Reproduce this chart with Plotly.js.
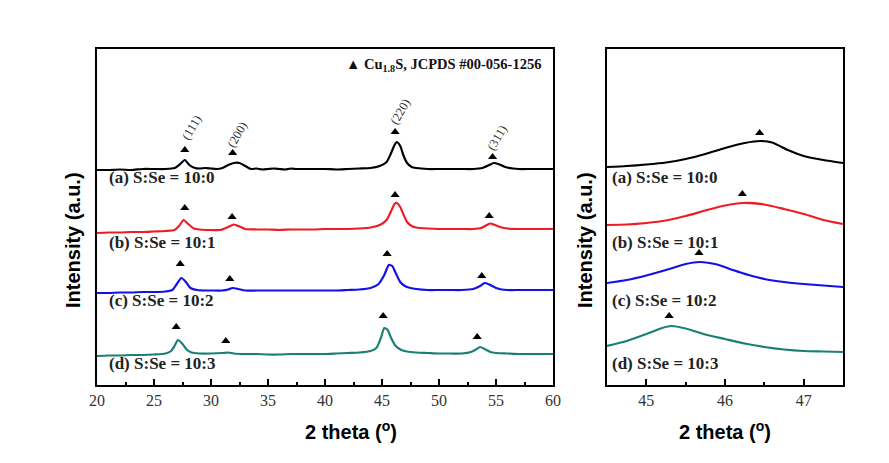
<!DOCTYPE html>
<html><head><meta charset="utf-8">
<script src="https://cdn.plot.ly/plotly-3.0.1.min.js"></script>
<style>body{margin:0;background:#fff}#c{width:889px;height:463px}</style>
</head><body><div id="c"></div>
<script>
// Left panel (20-60 deg), stacked intensities (a.u.)
const aX = [20,21,22,23,24,25,26,26.8,27.3,27.7,28.1,28.6,29,29.5,30,30.5,31,31.5,32,32.5,33,33.5,34,34.5,35,35.5,36,36.5,37,37.5,38,39,40,41,42,43,44,44.8,45.4,45.8,46.1,46.3,46.6,46.9,47.2,47.6,48,49,50,51,52,53,53.8,54.4,54.8,55.2,55.8,56.5,57,58,59,60];
const aY = [215,215,215.5,215,216,216,216,217,221,225,220,217,216.5,217,216.5,216,217,220,222,222,219,216,216.5,215.5,216,216.5,216,215.5,216.5,216,216,216,216,215.5,216,216.5,217,219,223,232,240,243,239,229,222,218,217,216,216,216,216,216,217,220,222,221,218,216.5,216,216,216,216];
const bX = [20,21,22,23,24,25,26,26.8,27.2,27.6,28.0,28.5,29,30,30.8,31.5,32,32.5,33,34,35,36,37,38,39,40,41,42,43,44,44.8,45.4,45.8,46.1,46.3,46.6,46.9,47.2,47.6,48,49,50,51,52,53,53.7,54.2,54.5,54.9,55.5,56,57,58,59,60];
const bY = [152,152.5,152.5,153,153,153.5,154,155,159,165,161,156.5,155.5,155,155,158,160.5,158.5,156,155.5,155.5,155,155.5,155.5,155.5,156,156,156,156.5,157.5,160,165,174,181,182,178,170,163,159,157.5,156.5,156,156,156,156,157,160,161.5,160,157.5,156.5,156,156,156,156];
const cX = [20,21,22,23,24,25,26,26.6,27.0,27.4,27.8,28.2,28.8,29.5,30,31,31.5,31.9,32.4,33,34,35,36,37,38,39,40,41,42,43,44,44.7,45.2,45.6,45.9,46.2,46.6,47,47.5,48,49,50,51,52,53,53.6,54.0,54.4,55,55.5,56,57,58,59,60];
const cY = [92,92,92.5,92.5,93,93,93.5,95,101,107,103,97,95,94.5,94.5,94.5,95.5,97,96,94.5,94.5,94.5,94.5,94.5,94.5,94.5,94.5,94.5,95,95.5,97,101,110,120,119,112,103,99,97,96,95,95,95,95,96,99,102,100.5,97,95.5,95,95,95,95,95];
const dX = [20,21,22,23,24,25,26,26.5,26.8,27.1,27.5,27.9,28.3,29,30,31,31.5,32,33,34,35,36,37,38,39,40,41,42,43,44,44.5,44.9,45.2,45.5,45.8,46.2,46.7,47.2,48,49,50,51,52,52.8,53.3,53.6,54.0,54.5,55,56,57,58,59,60];
const dY = [29,29.5,29.5,30,30,30.5,31.5,34,39,45,41,35,32.5,31.5,31.5,32,32.5,31.5,31,31,30.5,30.5,31,31,31,31,31.5,32,32.5,34,37,47,57,55,47,39,35,33.5,32.5,32,31.5,31.5,31.5,33,36,38,36,33,32,31.5,31,31,31,31];
// Peak markers (left)
const triAX = [27.7,31.9,46.15,54.7], triAY = [235,232,253,228];
const triBX = [27.7,31.85,46.15,54.4], triBY = [177,168,190,169];
const triCX = [27.3,31.65,45.45,53.75], triCY = [121,106,131,109];
const triDX = [26.95,31.3,45.1,53.35], triDY = [58,44,69,48];
const hklLabels = ['(111)','(200)','(220)','(311)'];
const hklX = [28.3,32.3,46.6,55.1], hklY = [257,250,273,247];
// Right panel (44.5-47.5 deg)
const raX = [44.5,44.75,45,45.25,45.5,45.75,46,46.25,46.45,46.6,46.8,47,47.25,47.5];
const raY = [218,219,220.5,222.5,226,231,237,242,244,242.5,235,229,225,222];
const rbX = [44.5,44.75,45,45.25,45.5,45.75,46,46.23,46.5,46.75,47,47.25,47.5];
const rbY = [160,160.5,162,164.5,169,174.5,179.5,182,180.5,176,171,165,161];
const rcX = [44.5,44.75,45,45.25,45.5,45.68,45.9,46.1,46.3,46.5,46.75,47,47.25,47.5];
const rcY = [102,105,109.5,115,121,123,120.5,115,110,106,103,101,99.5,98];
const rdX = [44.5,44.75,45,45.2,45.32,45.5,45.75,46,46.25,46.5,46.75,47,47.25,47.5];
const rdY = [39,44,51,57,59,56.5,50.5,46,41.5,38,35.5,34,33.5,33];
const rTriX = [46.44,46.22,45.67,45.29], rTriY = [252,191,132,69];
const sampleLabels = ['(a) S:Se = 10:0','(b) S:Se = 10:1','(c) S:Se = 10:2','(d) S:Se = 10:3'];
const sampleLabelY = [207,142,85,22];
const colors = ['#000000','#ee1c24','#1212e6','#1a7f75'];

const line = (x,y,c,xa) => ({x:x,y:y,mode:'lines',line:{color:c,width:2.2,shape:'spline',smoothing:0.6},xaxis:xa,yaxis:xa==='x'?'y':'y2',showlegend:false,hoverinfo:'skip'});
const tri = (x,y,xa) => ({x:x,y:y,mode:'markers',marker:{symbol:'triangle-up',size:8,color:'#000'},xaxis:xa,yaxis:xa==='x'?'y':'y2',showlegend:false,hoverinfo:'skip'});
const data = [
  line(aX,aY,colors[0],'x'),line(bX,bY,colors[1],'x'),line(cX,cY,colors[2],'x'),line(dX,dY,colors[3],'x'),
  tri(triAX,triAY,'x'),tri(triBX,triBY,'x'),tri(triCX,triCY,'x'),tri(triDX,triDY,'x'),
  line(raX,raY,colors[0],'x2'),line(rbX,rbY,colors[1],'x2'),line(rcX,rcY,colors[2],'x2'),line(rdX,rdY,colors[3],'x2'),
  tri(rTriX,rTriY,'x2')
];
const serif = 'Liberation Serif, Times New Roman, serif';
const sans = 'Liberation Sans, Arial, sans-serif';
const ann = [];
sampleLabels.forEach((t,i)=>{
  ann.push({xref:'x',yref:'y',x:20.9,y:sampleLabelY[i],text:'<b>'+t+'</b>',showarrow:false,xanchor:'left',yanchor:'middle',font:{family:serif,size:17,color:'#222'}});
  ann.push({xref:'x2',yref:'y2',x:44.54,y:sampleLabelY[i],text:'<b>'+t+'</b>',showarrow:false,xanchor:'left',yanchor:'middle',font:{family:serif,size:17,color:'#222'}});
});
hklLabels.forEach((t,i)=>{
  ann.push({xref:'x',yref:'y',x:hklX[i],y:hklY[i],text:t,textangle:-60,showarrow:false,xanchor:'center',yanchor:'middle',font:{family:serif,size:12.5,color:'#333'}});
});
ann.push({xref:'x',yref:'y',x:59.1,y:320,text:'<b>▲ Cu<sub>1.8</sub>S, JCPDS #00-056-1256</b>',showarrow:false,xanchor:'right',yanchor:'middle',font:{family:serif,size:14.5,color:'#111'}});
ann.push({xref:'paper',yref:'paper',x:73/889,y:1-240/463,text:'<b>Intensity (a.u.)</b>',textangle:-90,showarrow:false,xanchor:'center',yanchor:'middle',font:{family:sans,size:20,color:'#000'}});
ann.push({xref:'paper',yref:'paper',x:585/889,y:1-240/463,text:'<b>Intensity (a.u.)</b>',textangle:-90,showarrow:false,xanchor:'center',yanchor:'middle',font:{family:sans,size:20,color:'#000'}});
ann.push({xref:'paper',yref:'paper',x:351/889,y:1-430/463,text:'<b>2 theta (<sup>o</sup>)</b>',showarrow:false,xanchor:'center',yanchor:'middle',font:{family:sans,size:20,color:'#000'}});
ann.push({xref:'paper',yref:'paper',x:725/889,y:1-430/463,text:'<b>2 theta (<sup>o</sup>)</b>',showarrow:false,xanchor:'center',yanchor:'middle',font:{family:sans,size:20,color:'#000'}});

const xbase = {showline:true,linecolor:'#000',linewidth:2,mirror:true,ticks:'inside',ticklen:6,tickwidth:2,tickcolor:'#000',
  showgrid:false,zeroline:false,tickfont:{family:serif,size:16,color:'#333'},fixedrange:true};
const ybase = {showline:true,linecolor:'#000',linewidth:2,mirror:true,ticks:'',showticklabels:false,showgrid:false,zeroline:false,range:[0,336],domain:[1-385/463,1-49/463]};
const layout = {
  width:889,height:463,margin:{l:0,r:0,t:0,b:0},paper_bgcolor:'#fff',plot_bgcolor:'#fff',showlegend:false,
  xaxis:Object.assign({},xbase,{domain:[97/889,553/889],range:[20,60],dtick:5,tick0:20,minor:{dtick:2.5,ticks:'inside',ticklen:3,tickwidth:2,tickcolor:'#000'},anchor:'y'}),
  yaxis:Object.assign({},ybase,{anchor:'x'}),
  xaxis2:Object.assign({},xbase,{domain:[607/889,843/889],range:[44.5,47.5],dtick:1,tick0:45,minor:{dtick:0.5,ticks:'inside',ticklen:3,tickwidth:2,tickcolor:'#000'},anchor:'y2'}),
  yaxis2:Object.assign({},ybase,{anchor:'x2'}),
  annotations:ann
};
Plotly.newPlot('c',data,layout,{staticPlot:true});
</script></body></html>
